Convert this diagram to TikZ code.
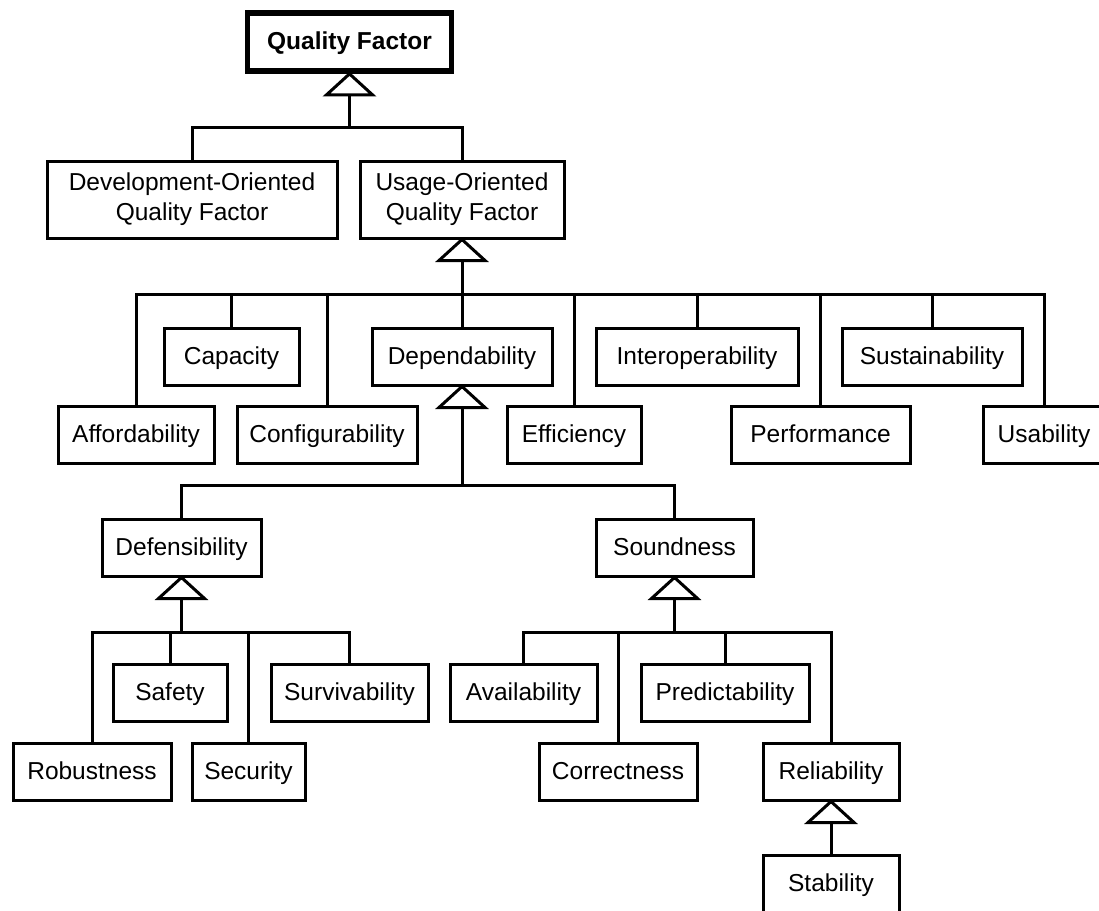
\documentclass[tikz,border=0pt]{standalone}
\usepackage{fontspec}
\setmainfont{Liberation Sans}
\usetikzlibrary{calc}

% generalisation triangle under a class box, with its tip point named <name>-t
\newcommand\gentri[1]{%
  \draw[gen] (#1.south) -- ++(-23,21) -- ++(46,0) -- cycle;
  \coordinate (#1-t) at ($(#1.south)+(0,21)$);}

\begin{document}
\begin{tikzpicture}[x=1pt,y=-1pt,
  every node/.style={font=\fontsize{24.5}{30}\selectfont},
  cls/.style={draw, line width=3pt, inner sep=0pt, align=center, fill=white},
  one/.style={cls, minimum height=57pt, text height=18.4pt, text depth=3.2pt},
  two/.style={cls, minimum height=77pt},
  root/.style={cls, line width=5.7pt, minimum height=58pt, text height=18.4pt,
    text depth=3.2pt, font=\fontsize{24.5}{30}\selectfont\bfseries},
  link/.style={line width=3pt},
  gen/.style={line width=3pt, fill=white, line join=miter},
]
\useasboundingbox (0,0) rectangle (1099,910);
\clip (0,0) rectangle (1099,910);

% heights of the horizontal bars
\coordinate (y1) at (0,127);
\coordinate (y2) at (0,294);
\coordinate (y3) at (0,485);
\coordinate (y4) at (0,632);

% classes
\node[root, minimum width=204pt] (qf) at (349.5,42) {Quality Factor};
\node[two, minimum width=290pt] (dev) at (192,199.5) {Development-Oriented\\Quality Factor};
\node[two, minimum width=204pt] (use) at (462,199.5) {Usage-Oriented\\Quality Factor};

\node[one, minimum width=135pt] (cap)  at (231.5,356.5) {Capacity};
\node[one, minimum width=180pt] (dep)  at (462,356.5)   {Dependability};
\node[one, minimum width=202pt] (intr) at (697,356.5)   {Interoperability};
\node[one, minimum width=180pt] (sus)  at (932,356.5)   {Sustainability};

\node[one, minimum width=156pt] (aff)  at (136,435)    {Affordability};
\node[one, minimum width=180pt] (conf) at (327,435)    {Configurability};
\node[one, minimum width=134pt] (eff)  at (574,435)    {Efficiency};
\node[one, minimum width=179pt] (perf) at (820.5,435)  {Performance};
\node[one, minimum width=122pt] (usab) at (1044,435)   {Usability};

\node[one, minimum width=159pt] (def) at (181.5,547.5) {Defensibility};
\node[one, minimum width=157pt] (snd) at (674.5,547.5) {Soundness};

\node[one, minimum width=114pt] (saf)   at (170,692.5)   {Safety};
\node[one, minimum width=157pt] (surv)  at (349.5,692.5) {Survivability};
\node[one, minimum width=147pt] (avail) at (523.5,692.5) {Availability};
\node[one, minimum width=168pt] (pred)  at (725,692.5)   {Predictability};

\node[one, minimum width=158pt] (rob)  at (92,771.5)    {Robustness};
\node[one, minimum width=113pt] (sec)  at (248.5,771.5) {Security};
\node[one, minimum width=158pt] (corr) at (618,771.5)   {Correctness};
\node[one, minimum width=136pt] (rel)  at (831,771.5)   {Reliability};

\node[one, minimum width=136pt] (stab) at (831,883.5) {Stability};

% Quality Factor
\gentri{qf}
\draw[link] (qf-t) -- (qf-t |- y1) coordinate (b1);
\draw[link] (b1) -| (dev.north);
\draw[link] (b1) -| (use.north);

% Usage-Oriented Quality Factor
\gentri{use}
\draw[link] (use-t) -- (dep.north);
\coordinate (b2) at (use-t |- y2);
\foreach \c in {aff,cap,conf,eff,intr,perf,sus,usab}
  \draw[link] (b2) -| (\c.north);

% Dependability
\gentri{dep}
\draw[link] (dep-t) -- (dep-t |- y3) coordinate (b3);
\draw[link] (b3) -| (def.north);
\draw[link] (b3) -| (snd.north);

% Defensibility
\gentri{def}
\draw[link] (def-t) -- (def-t |- y4) coordinate (b4);
\foreach \c in {rob,saf,sec,surv}
  \draw[link] (b4) -| (\c.north);

% Soundness
\gentri{snd}
\draw[link] (snd-t) -- (snd-t |- y4) coordinate (b5);
\foreach \c in {avail,corr,pred,rel}
  \draw[link] (b5) -| (\c.north);

% Reliability
\gentri{rel}
\draw[link] (rel-t) -- (stab.north);
\end{tikzpicture}
\end{document}
